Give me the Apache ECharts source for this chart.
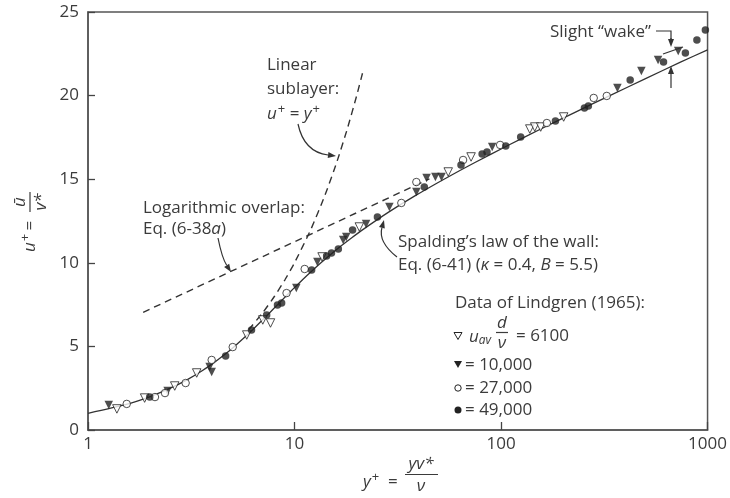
<!DOCTYPE html>
<html>
<head>
<meta charset="utf-8">
<script src="https://cdn.jsdelivr.net/npm/echarts@6/dist/echarts.min.js"></script>
<style>
  html, body { margin: 0; padding: 0; background: #fff; }
  #chart { width: 730px; height: 498px; }
</style>
</head>
<body>
<div id="chart"></div>
<script>
// Axis ticks
const xTickValues = [1, 10, 100, 1000];
const yTickValues = [0, 5, 10, 15, 20, 25];

// Spalding's law of the wall (kappa = 0.4, B = 5.5), tabulated as y+ / u+
const spaldingYPlus = [1.0, 1.5, 2.002, 2.506, 3.012, 3.524, 4.043, 4.573, 5.117, 5.681, 6.270, 6.894, 7.561,
  8.285, 9.080, 9.966, 10.966, 12.108, 13.427, 14.967, 16.781, 18.933, 21.502, 28.30, 38.25, 52.94, 74.75,
  107.25, 155.74, 228.14, 336.29, 497.84, 739.11, 1000];
const spaldingUPlus = [1.0, 1.5, 2, 2.5, 3, 3.5, 4, 4.5, 5, 5.5, 6, 6.5, 7,
  7.5, 8, 8.5, 9, 9.5, 10, 10.5, 11, 11.5, 12, 13, 14, 15, 16,
  17, 18, 19, 20, 21, 22, 22.74];

// Linear sublayer u+ = y+
const linearYPlus = [6, 7, 8, 9, 10, 12, 14, 16, 18, 20, 21.4];
const linearUPlus = [6, 7, 8, 9, 10, 12, 14, 16, 18, 20, 21.4];

// Logarithmic overlap, Eq. (6-38a)
const logYPlus = [1.85, 45];
const logUPlus = [7.04, 15.02];

// Lindgren (1965) data, u_av d / nu = 6100 (open triangles)
const re6100X = [1.38, 1.88, 2.63, 3.36, 5.87, 7.02, 7.65, 13.6, 20.6, 55.5, 71.6, 137.8, 145.6, 155.6, 201];
const re6100Y = [1.26, 1.91, 2.63, 3.41, 5.68, 6.58, 6.40, 10.35, 12.14, 15.43, 16.33, 18.0, 18.12, 18.12, 18.72];

// = 10,000 (filled triangles)
const re10000X = [1.26, 2.43, 3.88, 3.97, 10.2, 12.9, 17.2, 17.8, 22.2, 28.8, 38.9, 43.6, 48.1, 51.5, 90.6, 366, 478, 576, 721];
const re10000Y = [1.50, 2.33, 3.77, 3.47, 8.49, 10.05, 11.36, 11.54, 12.32, 13.34, 14.23, 15.07, 15.13, 15.13, 16.93, 20.45, 21.47, 22.13, 22.67];

// = 27,000 (open circles)
const re27000X = [1.54, 2.11, 2.36, 2.97, 3.97, 5.02, 9.15, 11.2, 32.9, 38.9, 65.5, 99.0, 166.7, 281, 325];
const re27000Y = [1.56, 1.97, 2.21, 2.81, 4.19, 4.96, 8.19, 9.63, 13.58, 14.83, 16.15, 17.05, 18.36, 19.86, 19.98];

// = 49,000 (filled circles)
const re49000X = [1.99, 4.64, 6.19, 7.33, 8.27, 8.66, 12.1, 14.3, 15.1, 16.3, 19.1, 25.2, 42.5, 64.0, 81.0, 85.5,
  105.4, 124.5, 183.4, 253.4, 264.7, 422, 612, 781, 888, 976];
const re49000Y = [1.97, 4.43, 5.98, 6.88, 7.48, 7.60, 9.57, 10.41, 10.59, 10.83, 11.96, 12.74, 14.53, 15.85, 16.51, 16.63,
  16.99, 17.52, 18.48, 19.26, 19.38, 20.93, 22.01, 22.55, 23.33, 23.92];

const zip = (xs, ys) => xs.map((x, i) => [x, ys[i]]);

const INK = '#3b3b3b';
const FAMILY = '"Open Sans", "DejaVu Sans", sans-serif';
const FS = 17;

function txt(x, y, text, extra) {
  return {
    type: 'text', x, y, z: 100,
    style: Object.assign({
      text, fill: INK, fontFamily: FAMILY, fontSize: FS,
      align: 'left', verticalAlign: 'middle'
    }, extra || {})
  };
}
const richStyles = {
  n: { fill: INK, fontFamily: FAMILY, fontSize: FS },
  i: { fill: INK, fontFamily: FAMILY, fontSize: FS, fontStyle: 'italic' },
  sup: { fill: INK, fontFamily: FAMILY, fontSize: 13, padding: [0, 0, 9, 1] },
  sub: { fill: INK, fontFamily: FAMILY, fontSize: 12, fontStyle: 'italic', padding: [8, 0, 0, 0] }
};

// Arrow made of a quadratic curve and a solid head
function arrow(x1, y1, cx, cy, x2, y2) {
  const ang = Math.atan2(y2 - cy, x2 - cx);
  const L = 8, W = 3;
  const bx = x2 - L * Math.cos(ang), by = y2 - L * Math.sin(ang);
  const ox = -Math.sin(ang) * W, oy = Math.cos(ang) * W;
  return [
    { type: 'bezierCurve', z: 100, shape: { x1, y1, x2: bx, y2: by, cpx1: cx, cpy1: cy },
      style: { stroke: '#333', lineWidth: 1.2, fill: null } },
    { type: 'polygon', z: 100, shape: { points: [[x2, y2], [bx + ox, by + oy], [bx - ox, by - oy]] },
      style: { fill: '#333' } }
  ];
}

const chart = echarts.init(document.getElementById('chart'), null, { renderer: 'canvas' });

const graphics = [
  // Linear sublayer
  txt(267, 65, 'Linear'),
  txt(267, 89, 'sublayer:'),
  txt(267, 114, '{i|u}{sup|+} {n|=} {i|y}{sup|+}', { rich: richStyles }),
  ...arrow(298, 124, 304, 152, 336, 156),
  // Logarithmic overlap
  txt(143, 208, 'Logarithmic overlap:'),
  txt(143, 229, '{n|Eq. (6-38}{i|a}{n|)}', { rich: richStyles }),
  ...arrow(218, 238, 222, 258, 231, 272),
  // Spalding
  txt(398, 242, 'Spalding\u2019s law of the wall:'),
  txt(398, 265, '{n|Eq. (6-41) (}{i|κ}{n| = 0.4, }{i|B}{n| = 5.5)}', { rich: richStyles }),
  ...arrow(397, 257, 378, 242, 384, 220),
  // Wake
  txt(550, 32, 'Slight \u201cwake\u201d'),
  { type: 'polyline', z: 100, shape: { points: [[656, 31], [671, 31], [671, 40]] },
    style: { stroke: '#333', lineWidth: 1.2, fill: null } },
  ...arrow(671, 38, 671, 42, 671, 47),
  { type: 'line', z: 100, shape: { x1: 663, y1: 54, x2: 683, y2: 47 },
    style: { stroke: '#333', lineWidth: 1.2 } },
  ...arrow(671, 88, 671, 78, 671, 66),
  // Data key
  txt(455, 303, 'Data of Lindgren (1965):'),
  { type: 'polygon', z: 100, shape: { points: [[454, 332.5], [462, 332.5], [458, 339.5]] },
    style: { fill: '#fff', stroke: '#222', lineWidth: 1 } },
  txt(469, 337, '{i|u}{sub|av}', { rich: richStyles }),
  txt(502, 323, 'd', { fontStyle: 'italic', align: 'center' }),
  { type: 'line', z: 100, shape: { x1: 496, y1: 332.5, x2: 508, y2: 332.5 }, style: { stroke: INK, lineWidth: 1.2 } },
  txt(502, 343, 'ν', { fontStyle: 'italic', align: 'center' }),
  txt(516, 336, '= 6100'),
  { type: 'polygon', z: 100, shape: { points: [[454, 361], [462, 361], [458, 368]] },
    style: { fill: '#222' } },
  txt(465, 365, '= 10,000'),
  { type: 'circle', z: 100, shape: { cx: 458, cy: 388, r: 3.2 }, style: { fill: '#fff', stroke: '#222', lineWidth: 1 } },
  txt(465, 388, '= 27,000'),
  { type: 'circle', z: 100, shape: { cx: 458, cy: 410, r: 3.5 }, style: { fill: '#222' } },
  txt(465, 410, '= 49,000'),
  // x-axis title: y+ = y v* / nu
  txt(363, 482, '{i|y}{sup|+}  {n|=}', { rich: richStyles }),
  txt(421, 464, 'yv*', { fontStyle: 'italic', align: 'center' }),
  { type: 'line', z: 100, shape: { x1: 405, y1: 474.5, x2: 438, y2: 474.5 }, style: { stroke: INK, lineWidth: 1.2 } },
  txt(421, 486, 'ν', { fontStyle: 'italic', align: 'center' }),
  // y-axis title: u+ = u-bar / v*, rotated
  {
    type: 'group', x: 30, y: 222, rotation: Math.PI / 2, z: 100,
    children: [
      { type: 'text', x: -30, y: 0, style: { text: '{i|u}{sup|+} {n|=}', rich: richStyles, align: 'left', verticalAlign: 'middle' } },
      { type: 'text', x: 20, y: -10, style: { text: 'ū', fill: INK, fontFamily: FAMILY, fontSize: FS, fontStyle: 'italic', align: 'center', verticalAlign: 'middle' } },
      { type: 'line', shape: { x1: 10, y1: 0, x2: 30, y2: 0 }, style: { stroke: INK, lineWidth: 1.2 } },
      { type: 'text', x: 20, y: 11, style: { text: 'v*', fill: INK, fontFamily: FAMILY, fontSize: FS, fontStyle: 'italic', align: 'center', verticalAlign: 'middle' } }
    ]
  }
];

const markerBase = { type: 'scatter', symbolSize: 7.5, z: 5 };

chart.setOption({
  animation: false,
  backgroundColor: '#fff',
  grid: { left: 88, right: 21, top: 12, bottom: 68, show: true, borderColor: '#555', borderWidth: 1.5, backgroundColor: 'transparent' },
  xAxis: {
    type: 'log', logBase: 10, min: xTickValues[0], max: xTickValues[xTickValues.length - 1],
    axisLine: { show: true, lineStyle: { color: '#555', width: 1.5 } },
    axisTick: { show: true, inside: true, length: 8, lineStyle: { color: '#444', width: 1.3 } },
    minorTick: { show: false },
    splitLine: { show: false },
    axisLabel: { color: INK, fontFamily: FAMILY, fontSize: FS, margin: 6,
      formatter: v => (xTickValues.includes(Math.round(v)) ? String(Math.round(v)) : '') }
  },
  yAxis: {
    type: 'value', min: yTickValues[0], max: yTickValues[yTickValues.length - 1], interval: 5,
    axisLine: { show: true, lineStyle: { color: '#555', width: 1.5 } },
    axisTick: { show: true, inside: true, length: 7, lineStyle: { color: '#444', width: 1.3 } },
    splitLine: { show: false },
    axisLabel: { color: INK, fontFamily: FAMILY, fontSize: FS, margin: 9 }
  },
  series: [
    { type: 'line', data: zip(spaldingYPlus, spaldingUPlus), showSymbol: false, smooth: 0.2, z: 3,
      lineStyle: { color: '#333', width: 1.3 } },
    { type: 'line', data: zip(linearYPlus, linearUPlus), showSymbol: false, smooth: 0.2, z: 2,
      lineStyle: { color: '#333', width: 1.4, type: [7, 5] } },
    { type: 'line', data: zip(logYPlus, logUPlus), showSymbol: false, z: 2,
      lineStyle: { color: '#333', width: 1.4, type: [7, 5] } },
    Object.assign({}, markerBase, { data: zip(re6100X, re6100Y), symbol: 'triangle', symbolRotate: 180, symbolSize: 8.5,
      itemStyle: { color: '#fff', borderColor: '#222', borderWidth: 1 } }),
    Object.assign({}, markerBase, { data: zip(re10000X, re10000Y), symbol: 'triangle', symbolRotate: 180, symbolSize: 8.5,
      itemStyle: { color: '#222' } }),
    Object.assign({}, markerBase, { data: zip(re27000X, re27000Y), symbol: 'circle',
      itemStyle: { color: '#fff', borderColor: '#222', borderWidth: 1 } }),
    Object.assign({}, markerBase, { data: zip(re49000X, re49000Y), symbol: 'circle',
      itemStyle: { color: '#222' } })
  ],
  graphic: graphics
});
</script>
</body>
</html>
